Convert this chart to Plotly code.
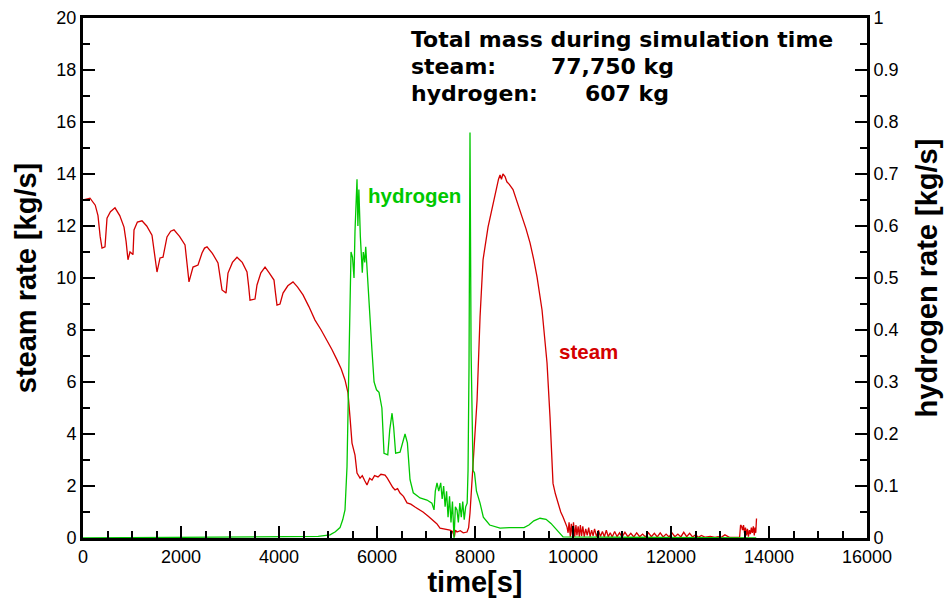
import plotly.graph_objects as go

# ---- steam rate [kg/s] (left axis) ----
steam_t = [0, 143, 250, 306, 350, 388, 449, 490, 560, 653, 750, 837, 880, 918, 959, 1020, 1041, 1110,
           1204, 1300, 1408, 1460, 1510, 1572, 1633, 1714, 1790, 1857, 1970, 2082, 2130, 2163, 2245,
           2347, 2429, 2480, 2531, 2640, 2755, 2800, 2837, 2919, 2959, 3050, 3143, 3250, 3347, 3380,
           3408, 3510, 3551, 3630, 3715, 3800, 3898, 3930, 3959, 4021, 4082, 4180, 4286, 4380, 4490,
           4610, 4735, 4860, 4980, 5080, 5184, 5270, 5347, 5408, 5449, 5490, 5551, 5592, 5654, 5700,
           5750, 5796, 5850, 5898, 5950, 6021, 6080, 6164, 6210, 6266, 6320, 6368, 6420, 6470, 6540,
           6613, 6690, 6776, 6860, 6939, 7040, 7143, 7220, 7286, 7390, 7490, 7540, 7580, 7600, 7633,
           7700, 7760, 7837, 7870, 7898, 7960, 8042, 8103, 8164, 8266, 8368, 8440, 8480, 8511, 8540,
           8570, 8613, 8650, 8700, 8776, 8870, 8960, 9040, 9123, 9200, 9266, 9368, 9420, 9470, 9531,
           9592, 9640, 9695, 9750, 9797, 9840, 9878, 9900, 9920, 9945, 9965, 9990, 10010, 10035,
           10060, 10080, 10105, 10130, 10150, 10175, 10200, 10230, 10260, 10290, 10320, 10350,
           10380, 10410, 10440, 10480, 10520, 10560, 10600, 10640, 10680, 10720, 10760, 10800,
           10850, 10900, 10950, 11000, 11060, 11120, 11180, 11240, 11300, 11360, 11420, 11480,
           11540, 11600, 11660, 11720, 11780, 11840, 11900, 11960, 12020, 12080, 12140, 12200,
           12260, 12320, 12380, 12440, 12500, 12560, 12620, 12700, 12800, 12900, 12960, 13020,
           13100, 13200, 13300, 13360, 13400, 13420, 13440, 13460, 13480, 13500, 13520, 13540,
           13560, 13580, 13600, 13620, 13640, 13660, 13680, 13700, 13715, 13730, 13745]
steam_v = [13.0, 13.07, 12.8, 12.4, 11.6, 11.15, 11.2, 12.3, 12.55, 12.7, 12.4, 11.96, 11.4, 10.7, 11.0,
           10.9, 11.85, 12.15, 12.2, 12.0, 11.65, 11.0, 10.23, 10.77, 10.8, 11.58, 11.8, 11.85, 11.6,
           11.27, 10.5, 9.85, 10.42, 10.5, 10.96, 11.15, 11.2, 10.95, 10.58, 10.0, 9.54, 9.42, 10.19,
           10.6, 10.8, 10.6, 10.23, 9.7, 9.15, 9.19, 9.73, 10.2, 10.42, 10.2, 9.92, 9.4, 8.96, 9.0,
           9.42, 9.7, 9.85, 9.65, 9.35, 8.9, 8.38, 8.0, 7.6, 7.25, 6.85, 6.5, 6.08, 5.58, 4.65, 3.65,
           3.19, 2.5, 2.3, 2.4, 2.2, 2.04, 2.3, 2.23, 2.4, 2.35, 2.45, 2.42, 2.3, 2.1, 1.95, 1.85,
           1.9, 1.73, 1.6, 1.35, 1.3, 1.19, 1.1, 1.0, 0.85, 0.69, 0.55, 0.38, 0.35, 0.3, 0.25, 0.05,
           0.3, 0.23, 0.28, 0.2, 0.23, 0.4, 0.96, 2.73, 5.3, 8.5, 10.7, 11.96, 12.88, 13.5, 13.8,
           13.96, 13.8, 14.0, 13.9, 13.7, 13.6, 13.4, 12.9, 12.35, 11.9, 11.35, 10.7, 10.04, 8.77,
           7.8, 6.73, 4.65, 2.1, 1.7, 1.35, 1.0, 0.81, 0.6, 0.42, 0.2, 0.6, 0.05, 0.55, 0.1, 0.6,
           0.05, 0.5, 0.1, 0.45, 0.05, 0.5, 0.08, 0.45, 0.05, 0.35, 0.1, 0.4, 0.05, 0.3, 0.08, 0.35,
           0.05, 0.3, 0.06, 0.25, 0.05, 0.3, 0.05, 0.2, 0.04, 0.25, 0.05, 0.2, 0.04, 0.22, 0.05,
           0.18, 0.04, 0.2, 0.05, 0.15, 0.04, 0.2, 0.05, 0.18, 0.04, 0.2, 0.04, 0.15, 0.04, 0.2,
           0.05, 0.15, 0.04, 0.22, 0.05, 0.18, 0.04, 0.12, 0.03, 0.1, 0.03, 0.06, 0.02, 0.05, 0.02,
           0.12, 0.02, 0.03, 0.02, 0.03, 0.5, 0.45, 0.3, 0.5, 0.2, 0.4, 0.1, 0.35, 0.05, 0.3, 0.15,
           0.4, 0.2, 0.45, 0.1, 0.4, 0.2, 0.75, 0.0]

# ---- hydrogen rate [kg/s] (right axis) ----
h2_t = [0, 4490, 4800, 5041, 5150, 5245, 5300, 5347, 5388, 5420, 5450, 5470, 5500, 5531, 5551, 5592,
        5610, 5630, 5660, 5700, 5720, 5750, 5770, 5817, 5860, 5898, 5940, 5990, 6041, 6100, 6143,
        6220, 6260, 6307, 6340, 6380, 6470, 6530, 6572, 6620, 6674, 6740, 6878, 7020, 7120, 7164,
        7190, 7225, 7260, 7300, 7330, 7360, 7390, 7420, 7450, 7480, 7510, 7540, 7572, 7600, 7633,
        7660, 7690, 7720, 7750, 7780, 7810, 7840, 7858, 7878, 7898, 7920, 7960, 7990, 8030, 8103,
        8170, 8300, 8511, 8700, 8919, 9000, 9100, 9200, 9327, 9450, 9550, 9674, 9797, 13740]
h2_v = [0.0, 0.002, 0.003, 0.006, 0.012, 0.02, 0.035, 0.054, 0.137, 0.3, 0.5, 0.55, 0.54, 0.5, 0.59,
        0.69, 0.6, 0.67, 0.58, 0.51, 0.55, 0.53, 0.56, 0.48, 0.41, 0.36, 0.3, 0.285, 0.28, 0.25,
        0.163, 0.16, 0.208, 0.24, 0.213, 0.163, 0.165, 0.188, 0.2, 0.183, 0.112, 0.087, 0.077,
        0.073, 0.067, 0.054, 0.09, 0.106, 0.09, 0.106, 0.075, 0.1, 0.06, 0.09, 0.04, 0.08, 0.03,
        0.07, 0.0, 0.06, 0.054, 0.03, 0.067, 0.04, 0.07, 0.035, 0.06, 0.067, 0.13, 0.33, 0.78,
        0.36, 0.13, 0.125, 0.09, 0.067, 0.04, 0.025, 0.019, 0.02, 0.021, 0.02, 0.025, 0.033,
        0.038, 0.036, 0.028, 0.015, 0.002, 0.0]

x_ticks = [0, 2000, 4000, 6000, 8000, 10000, 12000, 14000, 16000]
y_ticks = [0, 2, 4, 6, 8, 10, 12, 14, 16, 18, 20]
y2_ticks = [0, 0.1, 0.2, 0.3, 0.4, 0.5, 0.6, 0.7, 0.8, 0.9, 1]

RED = "#d40000"
GREEN = "#00c800"
FONT = "Liberation Sans, Arial, sans-serif"
BOX_FONT = "DejaVu Sans, Liberation Sans, sans-serif"

fig = go.Figure()
fig.add_trace(go.Scatter(x=h2_t, y=h2_v, mode="lines", yaxis="y2",
                         line=dict(color=GREEN, width=1.3), showlegend=False))
fig.add_trace(go.Scatter(x=steam_t, y=steam_v, mode="lines",
                         line=dict(color=RED, width=1.3), showlegend=False))

axis_common = dict(showline=True, linecolor="black", linewidth=3, ticks="inside",
                   tickcolor="black", tickwidth=2, ticklen=12, showgrid=False, zeroline=False,
                   automargin=False,
                   tickfont=dict(family=FONT, size=18, color="black"))
title_font = dict(family=FONT, size=29, color="black")

fig.update_layout(
    width=950, height=598,
    margin=dict(l=83, r=83, t=18, b=60),
    paper_bgcolor="white", plot_bgcolor="white",
    xaxis=dict(range=[0, 16000], tickvals=x_ticks, ticktext=[str(v) for v in x_ticks],
               mirror=True,
               minor=dict(dtick=500, ticks="inside", ticklen=7, tickwidth=1.5, tickcolor="black"),
               title=dict(text="<b>time[s]</b>", font=title_font, standoff=4),
               **axis_common),
    yaxis=dict(range=[0, 20], tickvals=y_ticks,
               minor=dict(dtick=1, ticks="inside", ticklen=7, tickwidth=1.5, tickcolor="black"),
               title=dict(text="<b>steam rate [kg/s]</b>", font=title_font, standoff=12),
               **axis_common),
    yaxis2=dict(range=[0, 1], tickvals=y2_ticks, ticktext=[("%g" % v) for v in y2_ticks],
                overlaying="y", side="right",
                minor=dict(dtick=0.05, ticks="inside", ticklen=7, tickwidth=1.5, tickcolor="black"),
                title=dict(text="<b>hydrogen rate [kg/s]</b>", font=title_font, standoff=20),
                **axis_common),
)

ann_font = dict(family=BOX_FONT, size=22, color="black")
fig.add_annotation(xref="paper", yref="paper", x=0.4158, y=0.959, xanchor="left", yanchor="middle",
                   text="<b>Total mass during simulation time</b>", showarrow=False, font=ann_font)
fig.add_annotation(xref="paper", yref="paper", x=0.4158, y=0.907, xanchor="left", yanchor="middle",
                   text="<b>steam:</b>", showarrow=False, font=ann_font)
fig.add_annotation(xref="paper", yref="paper", x=0.594, y=0.907, xanchor="left", yanchor="middle",
                   text="<b>77,750 kg</b>", showarrow=False, font=ann_font)
fig.add_annotation(xref="paper", yref="paper", x=0.4158, y=0.855, xanchor="left", yanchor="middle",
                   text="<b>hydrogen:</b>", showarrow=False, font=ann_font)
fig.add_annotation(xref="paper", yref="paper", x=0.638, y=0.855, xanchor="left", yanchor="middle",
                   text="<b>607 kg</b>", showarrow=False, font=ann_font)
fig.add_annotation(xref="paper", yref="paper", x=0.361, y=0.658, xanchor="left", yanchor="middle",
                   text="<b>hydrogen</b>", showarrow=False, font=dict(family=FONT, size=20.5, color=GREEN))
fig.add_annotation(xref="paper", yref="paper", x=0.604, y=0.358, xanchor="left", yanchor="middle",
                   text="<b>steam</b>", showarrow=False, font=dict(family=FONT, size=20.5, color=RED))

fig.write_html("out.html")
